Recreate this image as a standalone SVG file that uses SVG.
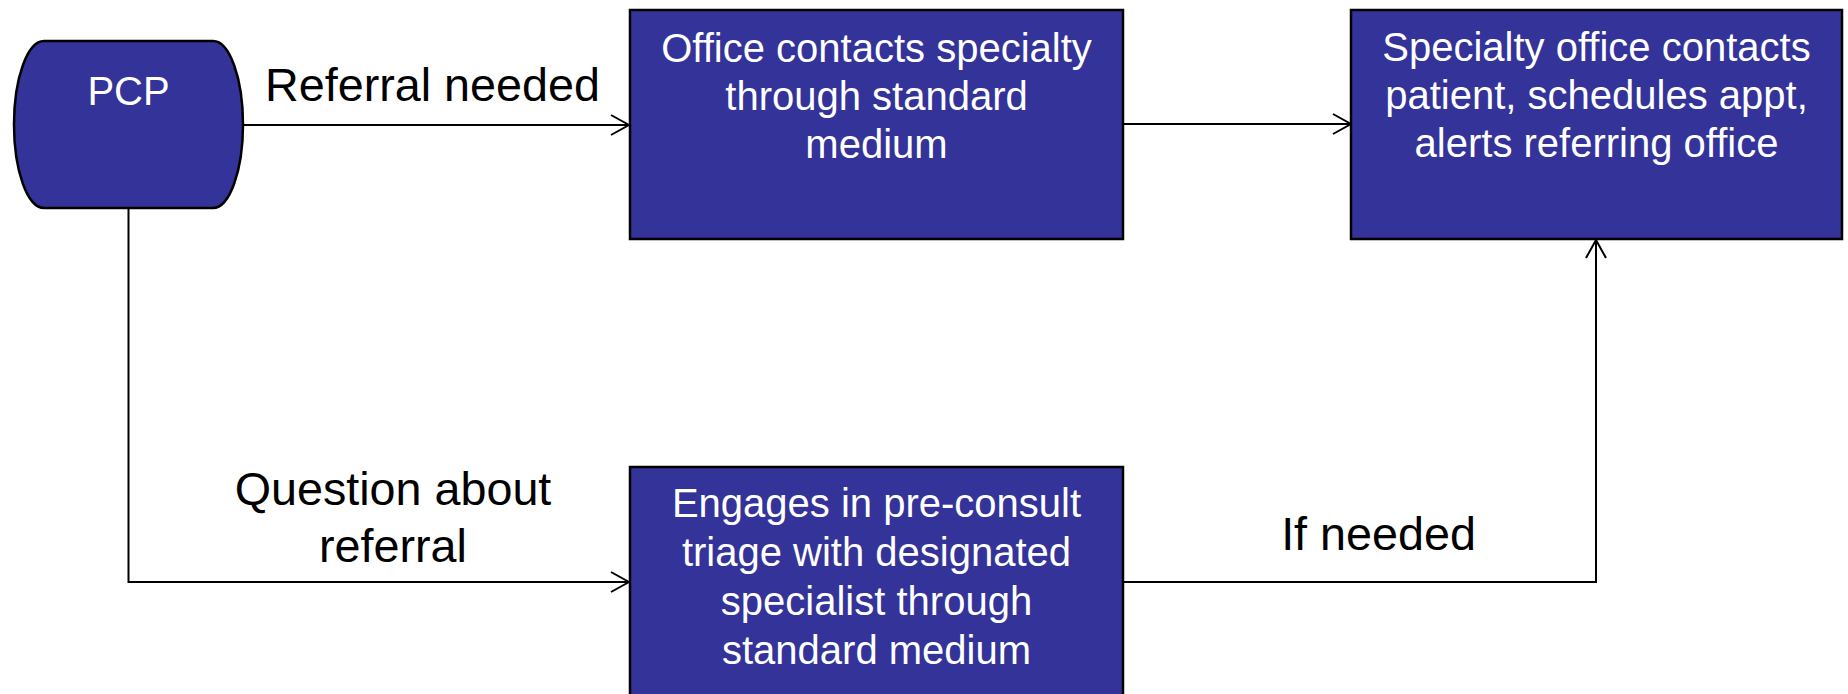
<svg xmlns="http://www.w3.org/2000/svg" width="1848" height="694" viewBox="0 0 1848 694">
  <style>
    .node { fill: #333399; stroke: #000; stroke-width: 2.5; }
    .inner { font-family: "Liberation Sans", Arial, sans-serif; font-size: 40px; fill: #fff; text-anchor: middle; }
    .label { font-family: "Liberation Sans", Arial, sans-serif; font-size: 46.7px; fill: #000; text-anchor: middle; }
    .link { fill: none; stroke: #000; stroke-width: 2; marker-end: url(#open); }
  </style>
  <defs>
    <marker id="open" markerUnits="userSpaceOnUse" markerWidth="22" markerHeight="24" viewBox="0 0 22 24" refX="20" refY="12" orient="auto">
      <path d="M2,2 L20,12 L2,22" fill="none" stroke="#000" stroke-width="2"/>
    </marker>
  </defs>
  <rect width="1848" height="694" fill="#fff"/>

  <g id="connectors">
    <path class="link" d="M243,125 H629"/>
    <path class="link" d="M1123,124 H1351"/>
    <path class="link" d="M128.5,209 V582 H629"/>
    <path class="link" d="M1123,582 H1596 V240"/>
    <text class="label" x="432.5" y="101">Referral needed</text>
    <text class="label" x="393" y="505">Question about</text>
    <text class="label" x="393" y="562">referral</text>
    <text class="label" x="1378.5" y="550">If needed</text>
  </g>

  <g id="pcp">
    <path class="node" d="M44,41 H213 A30,83.5 0 0 1 213,208 H44 A30,83.5 0 0 1 44,41 Z"/>
    <text class="inner" x="128.5" y="105">PCP</text>
  </g>

  <g id="office-contacts">
    <rect class="node" x="630" y="10" width="493" height="229"/>
    <text class="inner" x="876.5" y="62">Office contacts specialty</text>
    <text class="inner" x="876.5" y="110">through standard</text>
    <text class="inner" x="876.5" y="158">medium</text>
  </g>

  <g id="specialty-office">
    <rect class="node" x="1351" y="10" width="491" height="229"/>
    <text class="inner" x="1596.5" y="61">Specialty office contacts</text>
    <text class="inner" x="1596.5" y="109">patient, schedules appt,</text>
    <text class="inner" x="1596.5" y="157">alerts referring office</text>
  </g>

  <g id="pre-consult">
    <rect class="node" x="630" y="467" width="493" height="240"/>
    <text class="inner" x="876.5" y="517">Engages in pre-consult</text>
    <text class="inner" x="876.5" y="566">triage with designated</text>
    <text class="inner" x="876.5" y="615">specialist through</text>
    <text class="inner" x="876.5" y="664">standard medium</text>
  </g>
</svg>
